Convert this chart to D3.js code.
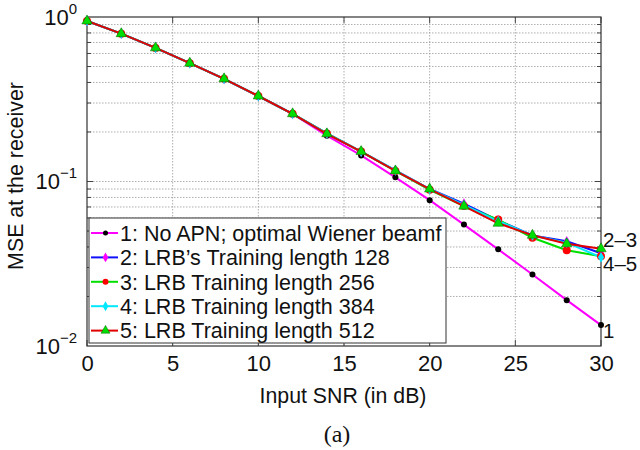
<!DOCTYPE html>
<html><head><meta charset="utf-8">
<script src="https://cdn.jsdelivr.net/npm/d3@7"></script>
<style>body{margin:0;background:#fff}svg{display:block}text{font-family:"Liberation Sans",Arial,Helvetica,sans-serif}</style>
</head><body><svg id="c" width="640" height="450"></svg>
<script>
const snr = [0,2,4,6,8,10,12,14,16,18,20,22,24,26,28,30];
const s1 = [0.946,0.792,0.649,0.524,0.421,0.331,0.258,0.190,0.144,0.106,0.077,0.0547,0.0387,0.0272,0.019,0.0134];
const s2 = [0.946,0.792,0.649,0.524,0.421,0.331,0.258,0.196,0.152,0.117,0.090,0.0733,0.0580,0.0470,0.0433,0.0366];
const s3 = [0.946,0.792,0.649,0.524,0.421,0.331,0.258,0.196,0.152,0.116,0.089,0.0710,0.0587,0.0455,0.0382,0.0351];
const s4 = [0.946,0.792,0.649,0.524,0.421,0.331,0.258,0.196,0.152,0.117,0.090,0.0720,0.0575,0.0470,0.0425,0.0346];
const s5 = [0.946,0.792,0.649,0.524,0.421,0.331,0.258,0.195,0.152,0.116,0.090,0.0708,0.0557,0.0471,0.0418,0.0390];
const names = ["1: No APN; optimal Wiener beamf","2: LRB\u2019s Training length 128","3: LRB Training length 256","4: LRB Training length 384","5: LRB Training length 512"];
const xTicks = [0,5,10,15,20,25,30];
const yTicks = [0.01,0.1,1];
const endLabels = [{t:"2\u20133",v:0.0441},{t:"4\u20135",v:0.0314},{t:"1",v:0.0123}];

const series = [
 {v:s1,line:"#ff00ff",mk:"circle",mfill:"#000",ms:3},
 {v:s2,line:"#1010ff",mk:"diamond",mfill:"#ff00ff",ms:3.6},
 {v:s3,line:"#00e000",mk:"circle",mfill:"#ff0000",ms:4},
 {v:s4,line:"#00e8ff",mk:"diamond",mfill:"#00e8ff",ms:3.6},
 {v:s5,line:"#e00000",mk:"triangle",mfill:"#00dd00",ms:3.8}
];
const L=87,R=601,T=17,B=346;
const svg=d3.select("#c");
const x=d3.scaleLinear().domain([0,30]).range([L,R]);
const y=d3.scaleLog().domain([0.01,1]).range([B,T]);

// grid
const g=svg.append("g");
xTicks.slice(1,-1).forEach(t=>g.append("line").attr("x1",x(t)).attr("x2",x(t)).attr("y1",T).attr("y2",B).attr("stroke","#999").attr("stroke-width",0.8).attr("stroke-dasharray","1.5,1.5"));
const minors=[];
[0.01,0.1].forEach(d=>{for(let k=1;k<=9;k++){const v=d*k; if(v>0.01&&v<1) minors.push(v);}});
minors.forEach(v=>g.append("line").attr("x1",L).attr("x2",R).attr("y1",y(v)).attr("y2",y(v)).attr("stroke","#999").attr("stroke-width",0.8).attr("stroke-dasharray","1.5,1.5"));

// ticks inside
const tk=svg.append("g").attr("stroke","#444").attr("stroke-width",1);
xTicks.forEach(t=>{tk.append("line").attr("x1",x(t)).attr("x2",x(t)).attr("y1",B).attr("y2",B-6);tk.append("line").attr("x1",x(t)).attr("x2",x(t)).attr("y1",T).attr("y2",T+6);});
minors.forEach(v=>{const len=Math.abs(Math.log10(v)-Math.round(Math.log10(v)))<1e-6?6:4;tk.append("line").attr("x1",L).attr("x2",L+len).attr("y1",y(v)).attr("y2",y(v));tk.append("line").attr("x1",R).attr("x2",R-len).attr("y1",y(v)).attr("y2",y(v));});

// axes via d3
const xa=svg.append("g").attr("transform",`translate(0,${B})`).call(d3.axisBottom(x).tickValues(xTicks).tickSize(0).tickPadding(9));
xa.select(".domain").remove();
xa.selectAll("text").attr("font-size",22).attr("fill","#111").style("font-family","'Liberation Sans', Arial");
const ya=svg.append("g").attr("transform",`translate(${L},0)`).call(d3.axisLeft(y).tickValues(yTicks).tickSize(0).tickFormat(()=>""));
ya.select(".domain").remove();
ya.selectAll(".tick").each(function(d){
  const e=Math.round(Math.log10(d));
  const t=d3.select(this).append("text").attr("fill","#111").attr("text-anchor","end").attr("x",-10).attr("y",7).attr("font-size",22);
  t.append("tspan").text("10");
  t.append("tspan").attr("font-size",15).attr("dy",-11).text(e===0?"0":"\u2212"+String(-e));
});

// frame
svg.append("rect").attr("x",L).attr("y",T).attr("width",R-L).attr("height",B-T).attr("fill","none").attr("stroke","#333").attr("stroke-width",1.2);

function marker(sel,s,cx,cy){
  if(s.mk==="circle") sel.append("circle").attr("cx",cx).attr("cy",cy).attr("r",s.ms).attr("fill",s.mfill);
  else if(s.mk==="diamond") sel.append("path").attr("d",d3.symbol(d3.symbolDiamond,s.ms*s.ms*2.6)()).attr("transform",`translate(${cx},${cy})`).attr("fill",s.mfill);
  else sel.append("path").attr("d",d3.symbol(d3.symbolTriangle,s.ms*s.ms*3.2)()).attr("transform",`translate(${cx},${cy})`).attr("fill",s.mfill).attr("stroke","#060").attr("stroke-width",0.5);
}
const lg=d3.line().x((d,i)=>x(snr[i])).y(d=>y(d));
series.forEach(s=>{
  svg.append("path").datum(s.v).attr("d",lg).attr("fill","none").attr("stroke",s.line).attr("stroke-width",2);
});
series.forEach(s=>{
  const mg=svg.append("g");
  s.v.forEach((v,i)=>marker(mg,s,x(snr[i]),y(v)));
});

// end labels
endLabels.forEach(l=>svg.append("text").attr("x",R+2).attr("y",y(l.v)).attr("font-size",20.5).attr("fill","#111").attr("dy","0.35em").text(l.t));

// legend
const lgX=89,lgY=218,lgW=357,lgH=125;
svg.append("rect").attr("x",lgX).attr("y",lgY).attr("width",lgW).attr("height",lgH).attr("fill","#fff").attr("stroke","#333").attr("stroke-width",1);
names.forEach((n,i)=>{
  const cy=lgY+15+i*24.4,s=series[i];
  svg.append("line").attr("x1",lgX+2).attr("x2",lgX+29).attr("y1",cy).attr("y2",cy).attr("stroke",s.line).attr("stroke-width",2);
  marker(svg,Object.assign({},s,{ms:s.mk==="circle"?(i===0?2.5:3):3.3}),lgX+16.5,cy);
  svg.append("text").attr("x",lgX+31).attr("y",cy).attr("dy","0.36em").attr("font-size",21.5).attr("fill","#111").text(n);
});

// axis titles
svg.append("text").attr("x",343).attr("y",403).attr("text-anchor","middle").attr("font-size",21.3).attr("fill","#111").text("Input SNR (in dB)");
svg.append("text").attr("transform","translate(23,176) rotate(-90)").attr("text-anchor","middle").attr("font-size",21.4).attr("fill","#111").text("MSE at the receiver");
svg.append("text").attr("x",337).attr("y",442).attr("text-anchor","middle").attr("font-size",24).style("font-family","'Liberation Serif','Times New Roman',serif").attr("fill","#111").text("(a)");
</script></body></html>
